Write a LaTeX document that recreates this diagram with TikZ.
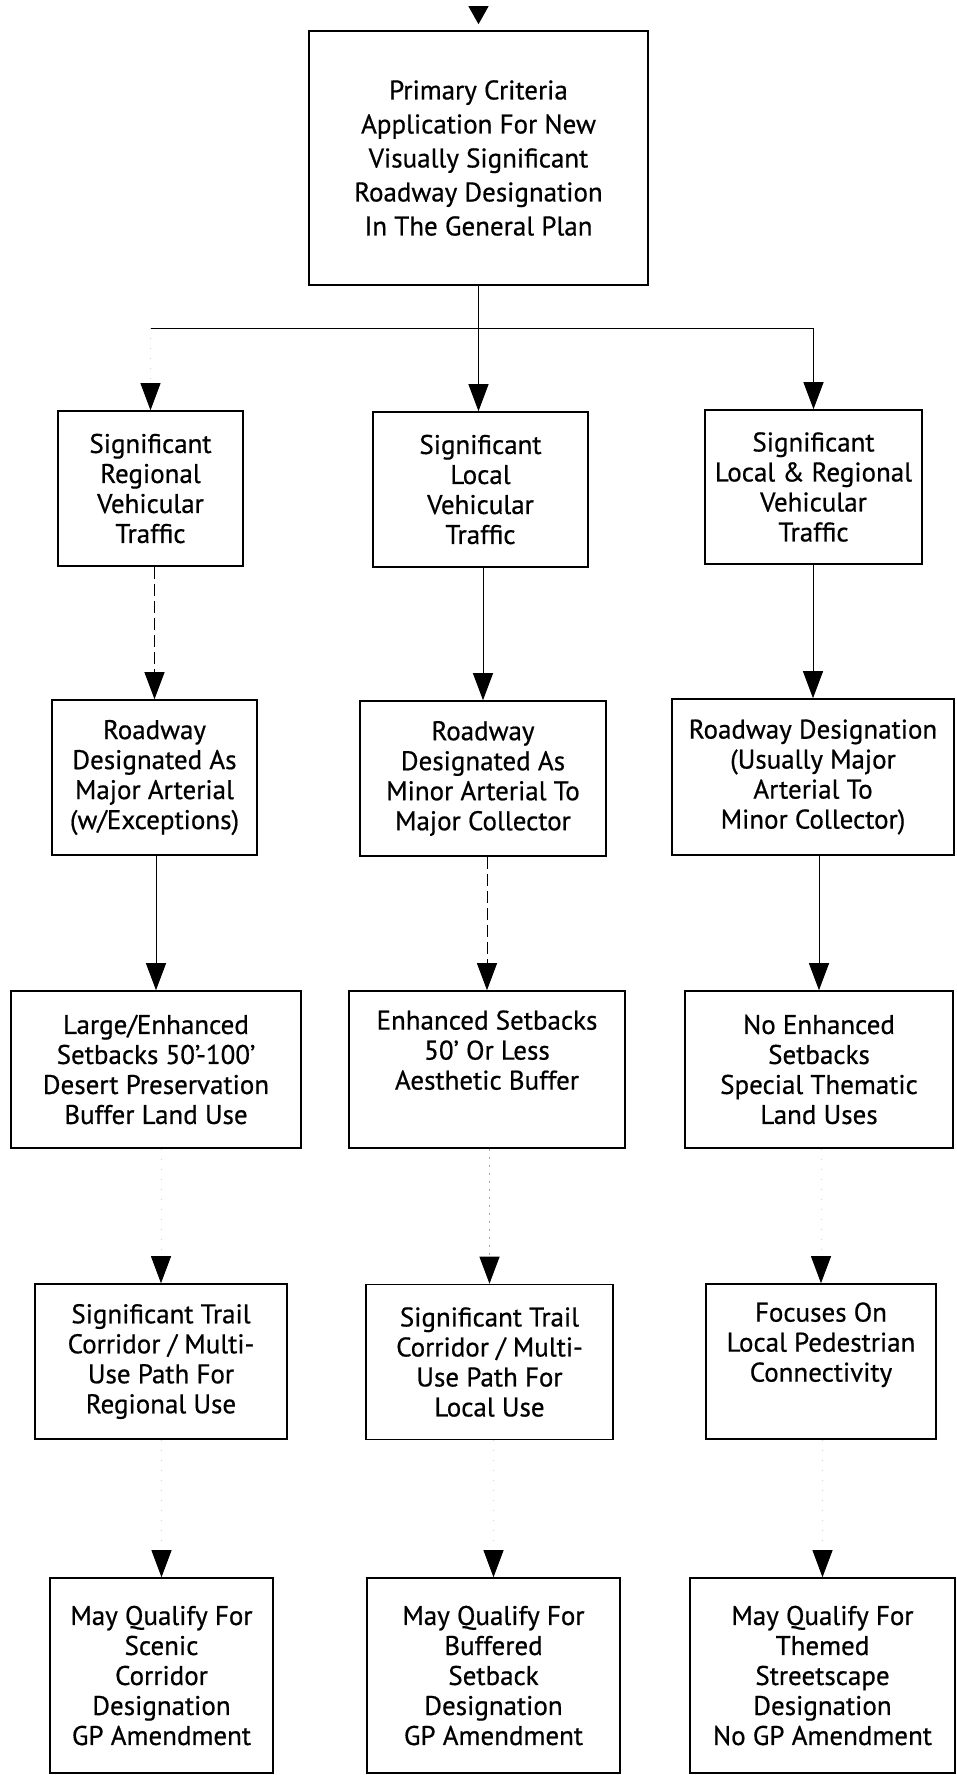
\documentclass[tikz,border=0pt]{standalone}
\usepackage{fontspec}
\setmainfont{PT Sans}[FakeBold=0.6]
\usetikzlibrary{arrows.meta}
\begin{document}
\begin{tikzpicture}[x=1pt,y=-1pt,
  box/.style={draw, line width=1.6pt, align=center, inner sep=0pt, font=\fontsize{27}{30}\selectfont},
  tip/.style={-{Triangle[width=20pt,length=27pt,color=black]}},
  conn/.style={line width=1pt, tip},
  dashconn/.style={line width=1pt, dash pattern=on 12pt off 5pt, tip},
  dotconn/.style={line width=1pt, gray!70, dash pattern=on 2pt off 6pt, tip},
  faintconn/.style={line width=0.8pt, gray!35, dash pattern=on 1pt off 9pt, tip},
  trunk/.style={line width=1pt}
]
\useasboundingbox (0,0) rectangle (957,1775);

% row 1
\node[box, minimum width=339pt, minimum height=254pt, font=\fontsize{27}{34}\selectfont] (top) at (478.5,158)
  {Primary Criteria\\Application For New\\Visually Significant\\Roadway Designation\\In The General Plan};

% row 2
\node[box, minimum width=185pt, minimum height=155pt] (r2a) at (150.5,488.5)
  {Significant\\Regional\\Vehicular\\Traffic};
\node[box, minimum width=215pt, minimum height=155pt] (r2b) at (480.5,489.5)
  {Significant\\Local\\Vehicular\\Traffic};
\node[box, minimum width=217pt, minimum height=154pt] (r2c) at (813.5,487)
  {Significant\\Local \& Regional\\Vehicular\\Traffic};

% row 3
\node[box, minimum width=205pt, minimum height=155pt] (r3a) at (154.5,777.5)
  {Roadway\\Designated As\\Major Arterial\\(w/Exceptions)};
\node[box, minimum width=246pt, minimum height=155pt] (r3b) at (483,778.5)
  {Roadway\\Designated As\\Minor Arterial To\\Major Collector};
\node[box, minimum width=282pt, minimum height=156pt] (r3c) at (813,777)
  {Roadway Designation\\(Usually Major\\Arterial To\\Minor Collector)};

% row 4
\node[box, minimum width=290pt, minimum height=157pt] (r4a) at (156,1069.5)
  {Large/Enhanced\\Setbacks 50’-100’\\Desert Preservation\\Buffer Land Use};
\node[box, minimum width=276pt, minimum height=157pt] (r4b) at (487,1069.5)
  {Enhanced Setbacks\\50’ Or Less\\Aesthetic Buffer\\\strut};
\node[box, minimum width=268pt, minimum height=157pt] (r4c) at (819,1069.5)
  {No Enhanced\\Setbacks\\Special Thematic\\Land Uses};

% row 5
\node[box, minimum width=252pt, minimum height=155pt] (r5a) at (161,1361.5)
  {Significant Trail\\Corridor / Multi-\\Use Path For\\Regional Use};
\node[box, minimum width=247pt, minimum height=155pt] (r5b) at (489.5,1362)
  {Significant Trail\\Corridor / Multi-\\Use Path For\\Local Use};
\node[box, minimum width=230pt, minimum height=155pt] (r5c) at (821,1361.5)
  {Focuses On\\Local Pedestrian\\Connectivity\\\strut};

% row 6
\node[box, minimum width=223pt, minimum height=195pt] (r6a) at (161.5,1675.5)
  {May Qualify For\\Scenic\\Corridor\\Designation\\GP Amendment};
\node[box, minimum width=253pt, minimum height=195pt] (r6b) at (493.5,1675.5)
  {May Qualify For\\Buffered\\Setback\\Designation\\GP Amendment};
\node[box, minimum width=265pt, minimum height=195pt] (r6c) at (822.5,1675.5)
  {May Qualify For\\Themed\\Streetscape\\Designation\\No GP Amendment};

% connectors
\coordinate (entry) at (478.5,6);
\coordinate (split) at (478.5,328);
\draw[line width=1pt, -{Triangle[width=20pt,length=18pt]}, shorten >=6pt] (entry) -- (top.north);
\draw[trunk] (top.south) -- (split);
\draw[trunk] (split -| r2a.north) -- (split -| r2c.north);
\draw[conn] (split) -- (split |- r2b.north);
\draw[conn] (split -| r2c.north) -- (r2c.north);
\draw[faintconn] (split -| r2a.north) -- (r2a.north);

\draw[dashconn] (r2a.south -| r3a.north) -- (r3a.north);
\draw[conn] (r2b.south -| r3b.north) -- (r3b.north);
\draw[conn] (r2c.south -| r3c.north) -- (r3c.north);

\draw[conn] (r3a.south -| r4a.north) -- (r4a.north);
\draw[dashconn] (r3b.south -| r4b.north) -- (r4b.north);
\draw[conn] (r3c.south -| r4c.north) -- (r4c.north);

\draw[faintconn] (r4a.south -| r5a.north) -- (r5a.north);
\draw[dotconn] (r4b.south -| r5b.north) -- (r5b.north);
\draw[faintconn] (r4c.south -| r5c.north) -- (r5c.north);

\draw[faintconn] (r5a.south -| r6a.north) -- (r6a.north);
\draw[faintconn] (r5b.south -| r6b.north) -- (r6b.north);
\draw[faintconn] (r5c.south -| r6c.north) -- (r6c.north);
\end{tikzpicture}
\end{document}
